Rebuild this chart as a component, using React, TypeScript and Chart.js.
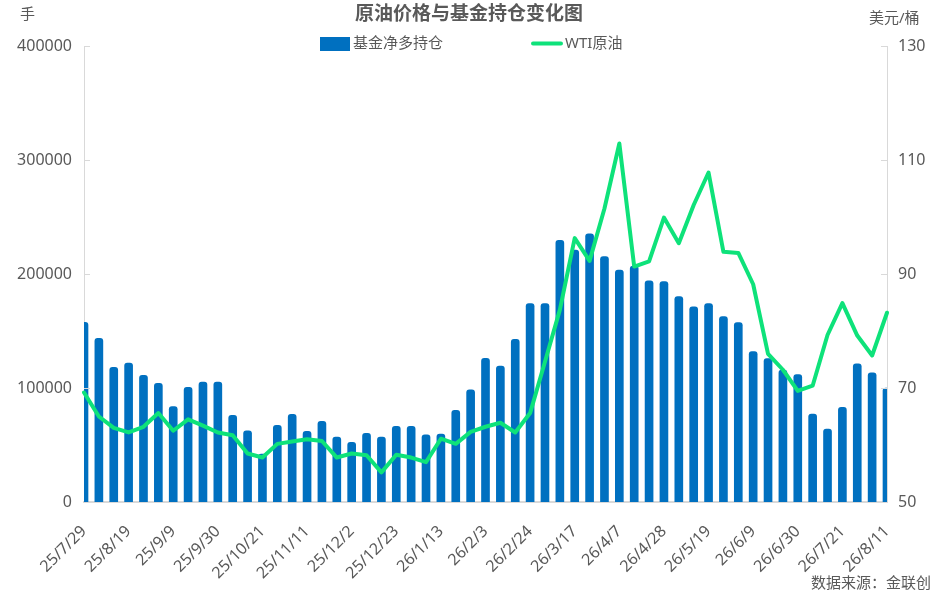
import React from "react";
import { Chart, ChartConfiguration, Plugin, registerables } from "chart.js";

Chart.register(...registerables);

const dates = [
  "25/7/29", "25/8/5", "25/8/12", "25/8/19", "25/8/26", "25/9/2", "25/9/9",
  "25/9/16", "25/9/23", "25/9/30", "25/10/7", "25/10/14", "25/10/21", "25/10/28",
  "25/11/4", "25/11/11", "25/11/18", "25/11/25", "25/12/2", "25/12/9", "25/12/16",
  "25/12/23", "25/12/30", "26/1/6", "26/1/13", "26/1/20", "26/1/27", "26/2/3",
  "26/2/10", "26/2/17", "26/2/24", "26/3/3", "26/3/10", "26/3/17", "26/3/24",
  "26/3/31", "26/4/7", "26/4/14", "26/4/21", "26/4/28", "26/5/5", "26/5/12",
  "26/5/19", "26/5/26", "26/6/2", "26/6/9", "26/6/16", "26/6/23", "26/6/30",
  "26/7/7", "26/7/14", "26/7/21", "26/7/28", "26/8/4", "26/8/11",
];

// 基金净多持仓 (手)
const fundNetLong = [
  157600, 143600, 118100, 121900, 111100, 104100, 83600, 100600, 105300, 105300,
  76000, 62500, 42000, 67300, 76900, 62000, 70800, 57000, 52300, 60200,
  57000, 66400, 66400, 59000, 59600, 80400, 98500, 126000, 119300, 142700,
  174000, 174000, 229500, 221000, 235200, 215200, 203500, 207000, 194100, 193300,
  180300, 171300, 174000, 162600, 157300, 131900, 125700, 115800, 111700, 77200,
  64000, 83100, 121300, 113400, 100000,
];

// WTI原油 (美元/桶)
const wtiPrice = [
  69.2, 65.0, 63.0, 62.2, 63.2, 65.6, 62.5, 64.5, 63.4, 62.2,
  61.7, 58.5, 57.8, 60.2, 60.6, 61.0, 60.7, 57.8, 58.5, 58.2,
  55.2, 58.3, 57.8, 57.0, 61.1, 60.2, 62.3, 63.2, 63.9, 62.2,
  65.6, 74.6, 83.7, 96.3, 92.3, 101.5, 112.9, 91.3, 92.2, 99.9,
  95.4, 102.1, 107.8, 93.9, 93.7, 88.2, 76.0, 73.2, 69.5, 70.4,
  79.3, 84.9, 79.2, 75.7, 83.2,
];

const leftTicks = [0, 100000, 200000, 300000, 400000];
const rightTicks = [50, 70, 90, 110, 130];

const BAR_COLOR = "#0070c0";
const LINE_COLOR = "#0ee27a";
const TEXT_COLOR = "#595959";
const AXIS_COLOR = "#d9d9d9";
const FONT = "'Noto Sans', 'Noto Sans CJK SC', sans-serif";

const decorPlugin: Plugin<"bar"> = {
  id: "decor",
  afterDraw(chart) {
    const { ctx, chartArea } = chart;
    const yl = chart.scales.y;
    const yr = chart.scales.y1;
    ctx.save();

    // inward tick marks on both value axes
    ctx.strokeStyle = AXIS_COLOR;
    ctx.lineWidth = 1;
    ctx.beginPath();
    leftTicks.forEach((v) => {
      const y = Math.round(yl.getPixelForValue(v)) + 0.5;
      ctx.moveTo(chartArea.left, y);
      ctx.lineTo(chartArea.left + 6, y);
    });
    rightTicks.forEach((v) => {
      const y = Math.round(yr.getPixelForValue(v)) + 0.5;
      ctx.moveTo(chartArea.right, y);
      ctx.lineTo(chartArea.right - 6, y);
    });
    ctx.stroke();

    ctx.fillStyle = TEXT_COLOR;
    ctx.textBaseline = "middle";

    ctx.font = `bold 19px ${FONT}`;
    ctx.textAlign = "center";
    ctx.fillText("原油价格与基金持仓变化图", 469, 15);

    ctx.font = `15px ${FONT}`;
    ctx.textAlign = "left";
    ctx.fillText("手", 20, 15);
    ctx.fillText("美元/桶", 869, 19);

    // legend
    ctx.fillStyle = BAR_COLOR;
    ctx.fillRect(320, 37, 30, 14);
    ctx.fillStyle = TEXT_COLOR;
    ctx.fillText("基金净多持仓", 353, 44);
    ctx.strokeStyle = LINE_COLOR;
    ctx.lineWidth = 4;
    ctx.lineCap = "round";
    ctx.beginPath();
    ctx.moveTo(533, 43.5);
    ctx.lineTo(561, 43.5);
    ctx.stroke();
    ctx.fillText("WTI原油", 565, 44);

    ctx.textAlign = "right";
    ctx.fillText("数据来源：金联创", 931, 584);
    ctx.restore();
  },
};

const App: React.FC = () => {
  const canvasRef = React.useRef<HTMLCanvasElement | null>(null);
  const chartRef = React.useRef<Chart | null>(null);

  React.useEffect(() => {
    document.body.style.margin = "0";
    const ctx = canvasRef.current;
    if (!ctx) return;
    chartRef.current?.destroy();

    Chart.defaults.font.family = FONT;
    Chart.defaults.color = TEXT_COLOR;

    const config: ChartConfiguration<"bar" | "line"> = {
      type: "bar",
      data: {
        labels: dates,
        datasets: [
          {
            type: "line",
            label: "WTI原油",
            data: wtiPrice,
            yAxisID: "y1",
            borderColor: LINE_COLOR,
            backgroundColor: LINE_COLOR,
            borderWidth: 4,
            pointRadius: 0,
            tension: 0,
            borderJoinStyle: "round",
            borderCapStyle: "round",
            order: 0,
          },
          {
            type: "bar",
            label: "基金净多持仓",
            data: fundNetLong,
            yAxisID: "y",
            backgroundColor: BAR_COLOR,
            barThickness: 8,
            borderRadius: 3,
            borderSkipped: "start",
            clip: 0,
            order: 1,
          },
        ],
      },
      options: {
        animation: false,
        responsive: true,
        maintainAspectRatio: false,
        layout: { padding: { top: 46, left: 0, right: 0, bottom: 0 } },
        plugins: {
          legend: { display: false },
          tooltip: { enabled: false },
        },
        scales: {
          x: {
            type: "category",
            offset: false,
            grid: { display: false, drawTicks: false },
            border: { display: true, color: AXIS_COLOR, width: 2 },
            ticks: {
              autoSkip: false,
              minRotation: 45,
              maxRotation: 45,
              padding: 20,
              font: { size: 16 },
              color: TEXT_COLOR,
              callback: (_v, i) => (i % 3 === 0 ? dates[i] : ""),
            },
            afterFit: (scale) => {
              scale.height = 99;
            },
          },
          y: {
            position: "left",
            min: 0,
            max: 400000,
            grid: { display: false, drawTicks: false },
            border: { display: true, color: AXIS_COLOR },
            ticks: {
              stepSize: 100000,
              padding: 12,
              font: { size: 16 },
              color: TEXT_COLOR,
              callback: (v) => String(v),
            },
            afterFit: (scale) => {
              scale.width = 84;
            },
          },
          y1: {
            position: "right",
            min: 50,
            max: 130,
            grid: { display: false, drawTicks: false },
            border: { display: true, color: AXIS_COLOR },
            ticks: {
              stepSize: 20,
              padding: 11,
              font: { size: 16 },
              color: TEXT_COLOR,
            },
            afterFit: (scale) => {
              scale.width = 50;
            },
          },
        },
      },
      plugins: [decorPlugin as Plugin<"bar" | "line">],
    };

    chartRef.current = new Chart(ctx, config as ChartConfiguration);

    return () => {
      chartRef.current?.destroy();
      chartRef.current = null;
    };
  }, []);

  return (
    <div style={{ width: 937, height: 601, position: "relative", background: "#fff" }}>
      <canvas ref={canvasRef} />
    </div>
  );
};

export default App;
